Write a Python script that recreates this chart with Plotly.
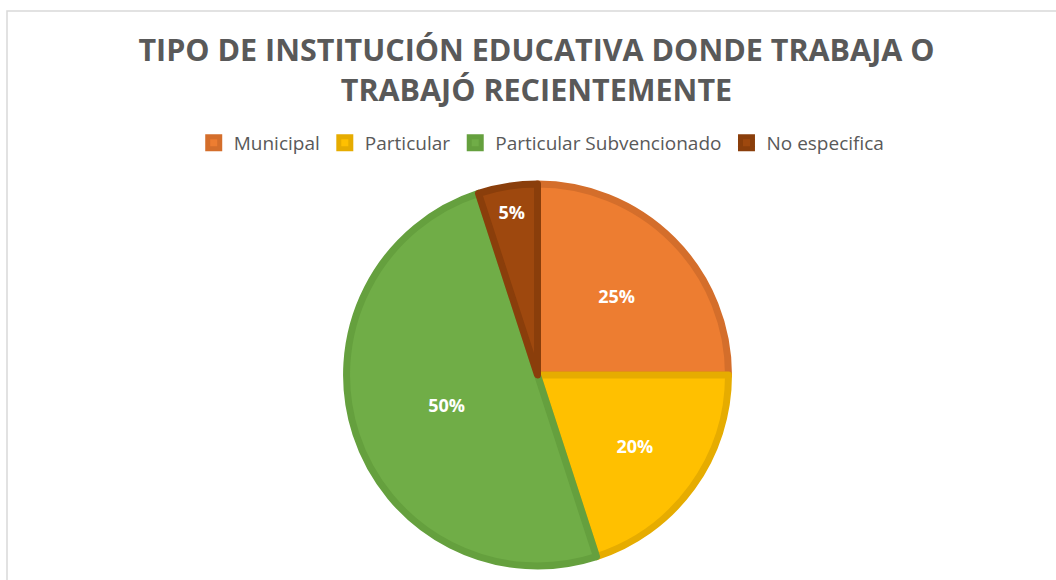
import plotly.graph_objects as go

categories = ["Municipal", "Particular", "Particular Subvencionado", "No especifica"]
values = [25, 20, 50, 5]
fill_colors = ["#ED7D31", "#FFC000", "#70AD47", "#9E480E"]
line_colors = ["#D46E2B", "#E6AC00", "#65A03E", "#8A3E0B"]
title_text = "TIPO DE INSTITUCIÓN EDUCATIVA DONDE TRABAJA O<br>TRABAJÓ RECIENTEMENTE"

W, H = 1056, 580
cx, cy, r = 537.5, 375, 191

fig = go.Figure(go.Pie(
    labels=categories,
    values=values,
    sort=False,
    direction="clockwise",
    rotation=0,
    marker=dict(colors=fill_colors, line=dict(color=line_colors, width=7)),
    texttemplate="%{percent:.0%}",
    textposition="inside",
    insidetextorientation="horizontal",
    textfont=dict(family="Open Sans", size=18, color="white", weight="bold"),
    domain=dict(x=[(cx - r) / W, (cx + r) / W], y=[1 - (cy + r) / H, 1 - (cy - r) / H]),
    hoverinfo="label+percent",
))

fig.update_layout(
    width=W, height=H,
    margin=dict(l=0, r=0, t=0, b=0),
    paper_bgcolor="white",
    plot_bgcolor="white",
    title=dict(
        text=title_text,
        x=0.508, xanchor="center",
        y=1 - 61 / H, yanchor="top", yref="container",
        font=dict(family="Open Sans", size=30.5, color="#595959", weight="bold"),
    ),
    legend=dict(
        orientation="h",
        x=0.513, xanchor="center",
        y=1 - 143 / H, yanchor="middle",
        font=dict(family="Open Sans", size=19, color="#595959"),
        traceorder="normal",
    ),
    shapes=[dict(
        type="rect", xref="paper", yref="paper",
        x0=7 / W, x1=1.05, y0=-0.05, y1=1 - 11 / H,
        line=dict(color="#D9D9D9", width=1.5), fillcolor="rgba(0,0,0,0)", layer="below",
    )],
)

fig.write_html("out.html", config={"displayModeBar": False},
               post_script="document.body.style.margin='0';")
